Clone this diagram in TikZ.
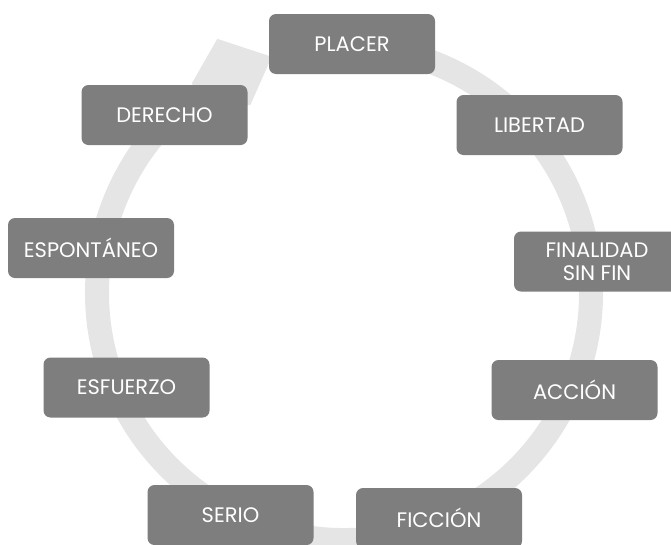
\documentclass[tikz,border=0pt]{standalone}
\usepackage{fontspec}
\setmainfont{Poppins}
\usetikzlibrary{calc}
\definecolor{boxgray}{RGB}{126,126,126}
\definecolor{ringgray}{RGB}{229,229,229}
\begin{document}
\begin{tikzpicture}[x=1pt,y=1pt,
  stage/.style={fill=boxgray, rounded corners=7pt, text=white,
    font=\fontsize{21}{23}\selectfont, align=center,
    minimum width=166pt, minimum height=60pt, inner sep=0pt}]
\useasboundingbox (0,0) rectangle (671,-544);
\coordinate (c) at (344,-293);
% circular ring
\draw[ringgray, line width=24pt] ($(c)+(100:247)$) arc[start angle=100, end angle=-233, radius=247];
% arrow head
\fill[ringgray] ($(c)+(126:259)$) -- ($(c)+(116.5:284)$) -- ($(c)+(107:247)$)
  -- ($(c)+(116.5:210)$) -- ($(c)+(126:235)$) -- cycle;
% stages
\node[stage] (placer) at (352,-44) {PLACER};
\node[stage] (libertad) at (539.5,-125) {LIBERTAD};
\node[stage] (finalidad) at (597,-261.5) {FINALIDAD\\SIN FIN};
\node[stage] (accion) at (574.5,-390) {ACCIÓN};
\node[stage] (ficcion) at (439,-518) {FICCIÓN};
\node[stage] (serio) at (230.5,-515) {SERIO};
\node[stage] (esfuerzo) at (126.5,-387.5) {ESFUERZO};
\node[stage] (espontaneo) at (91,-248) {ESPONTÁNEO};
\node[stage] (derecho) at (164.5,-115) {DERECHO};
\end{tikzpicture}
\end{document}
